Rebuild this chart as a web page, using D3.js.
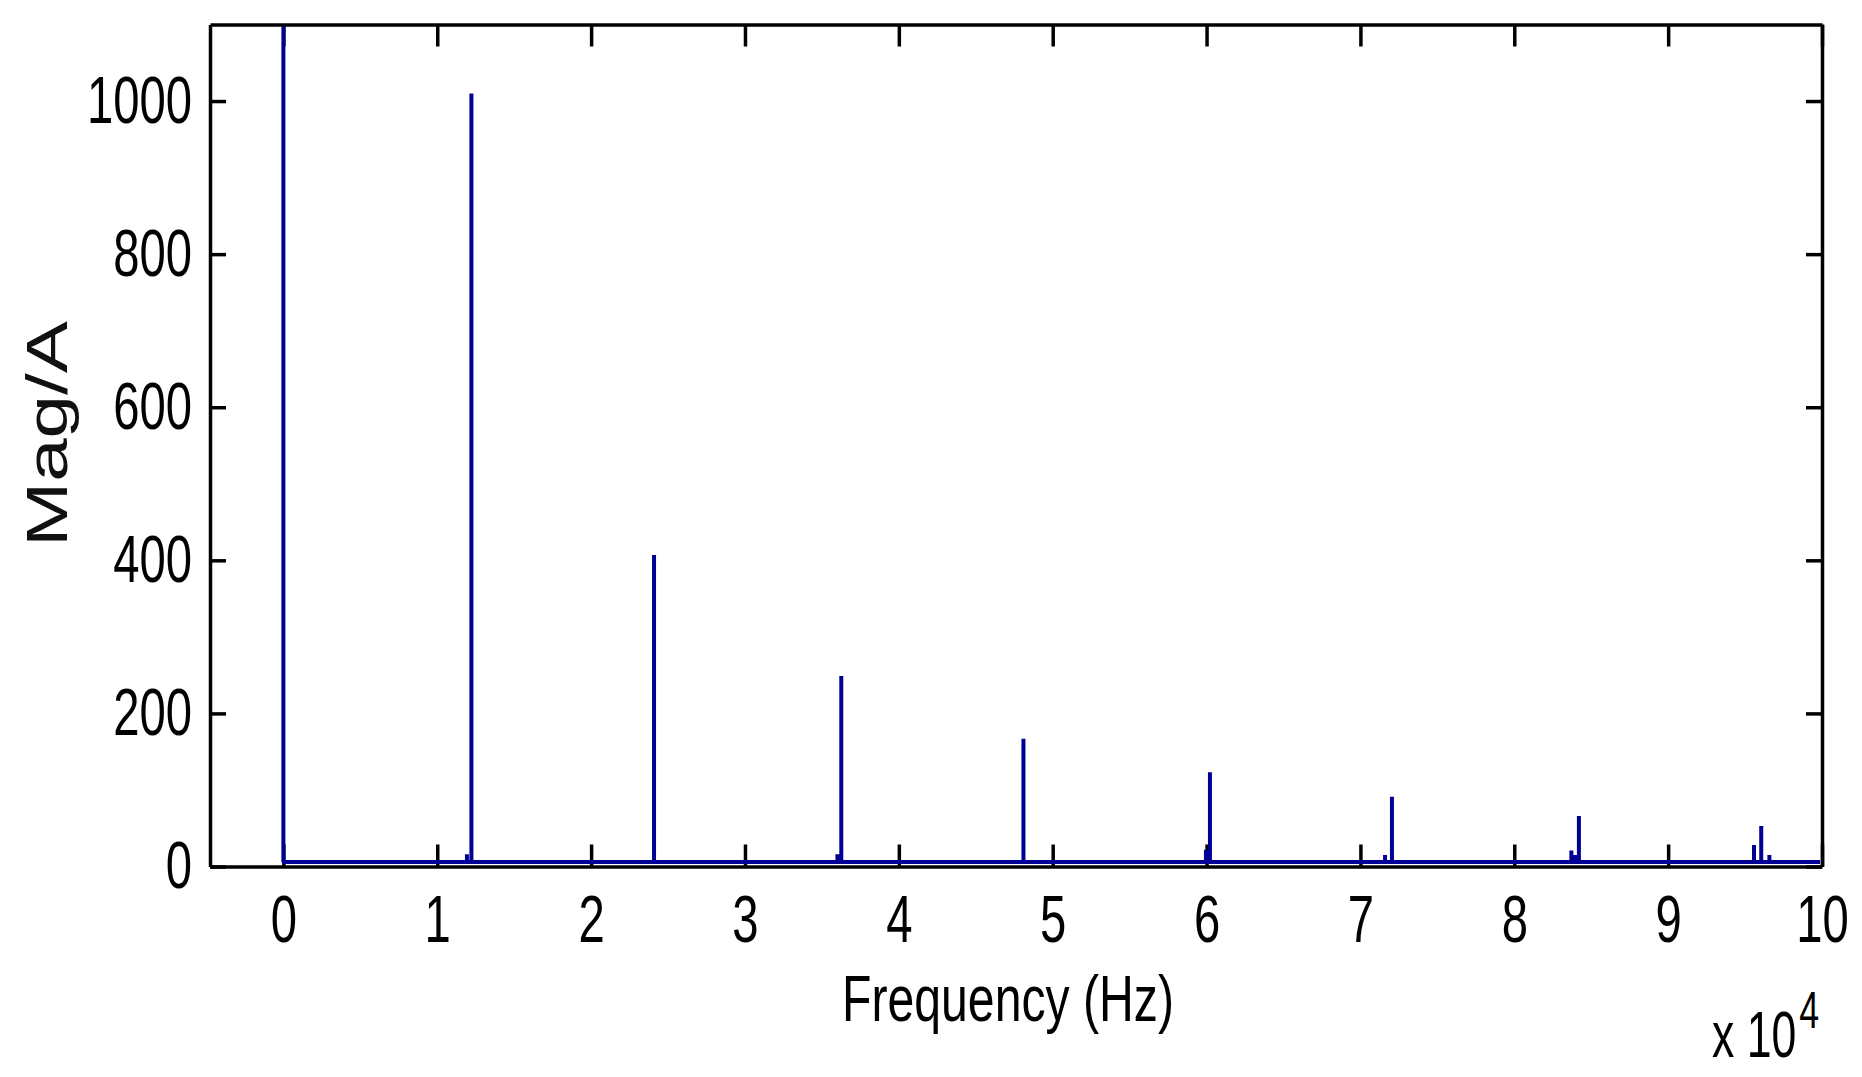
<!DOCTYPE html>
<html>
<head>
<meta charset="utf-8">
<script src="https://cdn.jsdelivr.net/npm/d3@7"></script>
<style>
  body { margin: 0; background: #fff; }
  svg { display: block; }
  .axis path, .axis line { stroke: #000; stroke-width: 3.5px; }
  .axis text { font-family: "Liberation Sans", Arial, sans-serif; font-size: 67px; fill: #000; }
</style>
</head>
<body>
<svg id="spectrum" width="1862" height="1077"></svg>
<script>

//// data, frequency in units of 10^4 Hz ////
var spikeFreq = [0, 1.193, 1.222, 2.409, 3.601, 3.626, 4.81, 5.996, 6.022, 7.16, 7.205, 8.371, 8.395, 8.42, 9.558, 9.605, 9.658];
var spikeMag  = [1250, 16, 1010, 407, 16, 249, 167, 22, 123, 15, 91, 21, 15, 66, 28, 53, 15];
var noiseFloor = 6;
var freqEnd = 10;

var xTicks = [0, 1, 2, 3, 4, 5, 6, 7, 8, 9, 10];
var yTicks = [0, 200, 400, 600, 800, 1000];
var xDomain = [-0.477, 10];
var yDomain = [0, 1100];
/////////

var svg = d3.select("#spectrum");

var margin = {top: 24.5, right: 40, bottom: 210.5, left: 210},
    width = 1822 - margin.left,
    height = 866.5 - margin.top;

var x = d3.scaleLinear().domain(xDomain).range([margin.left, margin.left + width]);
var y = d3.scaleLinear().domain(yDomain).range([margin.top + height, margin.top]);

// squeeze the labels, the original font is a narrow one
function narrow(sel, k) {
  sel.each(function() {
    var len = this.getComputedTextLength();
    d3.select(this).attr("textLength", len * k).attr("lengthAdjust", "spacingAndGlyphs");
  });
}

// axes, ticks point inward on all four sides
var gx = svg.append("g")
    .attr("class", "axis")
    .attr("transform", "translate(0," + y(0) + ")")
    .call(d3.axisBottom(x).tickValues(xTicks).tickFormat(d3.format("d"))
      .tickSizeInner(-22).tickSizeOuter(0).tickPadding(27.5));
gx.selectAll("text").call(narrow, 0.705);

var gy = svg.append("g")
    .attr("class", "axis")
    .attr("transform", "translate(" + margin.left + ",0)")
    .call(d3.axisLeft(y).tickValues(yTicks).tickFormat(d3.format("d"))
      .tickSizeInner(-16).tickSizeOuter(0).tickPadding(18));
gy.selectAll("text").call(narrow, 0.705);

svg.append("g")
    .attr("class", "axis")
    .attr("transform", "translate(0," + margin.top + ")")
    .call(d3.axisTop(x).tickValues(xTicks).tickSizeInner(-22).tickSizeOuter(0).tickFormat(""));

svg.append("g")
    .attr("class", "axis")
    .attr("transform", "translate(" + (margin.left + width) + ",0)")
    .call(d3.axisRight(y).tickValues(yTicks).tickSizeInner(-16).tickSizeOuter(0).tickFormat(""));

// spectrum line
svg.append("clipPath").attr("id", "plotClip")
  .append("rect")
    .attr("x", margin.left + 2)
    .attr("y", margin.top + 2)
    .attr("width", width - 4)
    .attr("height", height - 2);

var pts = [];
for (var i = 0; i < spikeFreq.length; i++) {
  if (i > 0) pts.push([spikeFreq[i], noiseFloor]);
  pts.push([spikeFreq[i], spikeMag[i]]);
  pts.push([spikeFreq[i], noiseFloor]);
}
pts.push([freqEnd, noiseFloor]);

var line = d3.line()
    .x(function(d) { return x(d[0]); })
    .y(function(d) { return y(d[1]); });

svg.append("path")
    .datum(pts)
    .attr("clip-path", "url(#plotClip)")
    .attr("d", line)
    .attr("fill", "none")
    .attr("stroke", "#000096")
    .attr("stroke-width", 4)
    .attr("stroke-linejoin", "bevel");

// labels
svg.append("text")
    .attr("x", 1008)
    .attr("y", 1021)
    .attr("text-anchor", "middle")
    .style("font-family", "Liberation Sans, Arial, sans-serif")
    .style("font-size", "64px")
    .attr("textLength", 332)
    .attr("lengthAdjust", "spacingAndGlyphs")
    .text("Frequency (Hz)");

svg.append("text")
    .attr("transform", "translate(67,434) rotate(-90)")
    .attr("text-anchor", "middle")
    .style("font-family", "Liberation Sans, Arial, sans-serif")
    .style("font-size", "58px")
    .attr("fill", "#111")
    .attr("textLength", 226)
    .attr("lengthAdjust", "spacingAndGlyphs")
    .text("Mag/A");

// exponent label, x 10^4
var expo = svg.append("text")
    .attr("x", 1712)
    .attr("y", 1057)
    .style("font-family", "Liberation Sans, Arial, sans-serif")
    .style("font-size", "65px");
expo.append("tspan").text("x 10");
expo.append("tspan")
    .attr("dx", 4)
    .attr("dy", -29)
    .style("font-size", "52px")
    .text("4");
expo.call(narrow, 0.705);

</script>
</body>
</html>
